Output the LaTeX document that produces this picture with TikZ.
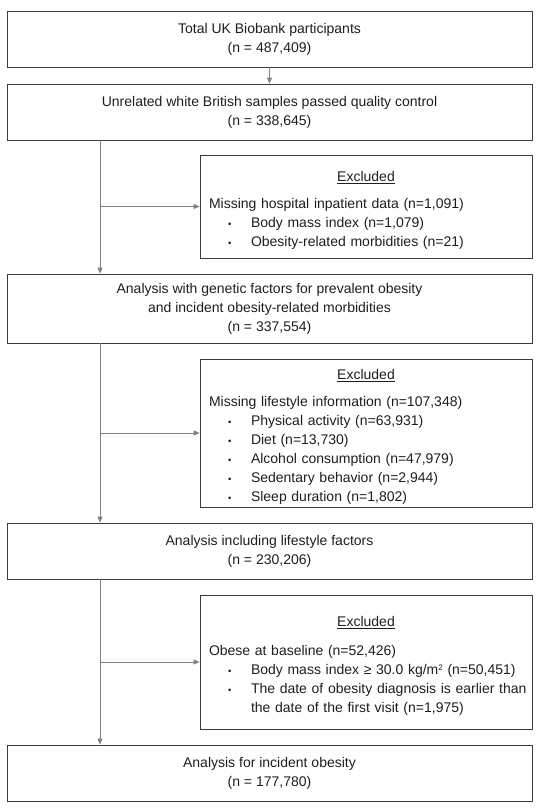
\documentclass[tikz,border=0pt]{standalone}
\usepackage{fontspec}
\setmainfont{Liberation Sans}
\usetikzlibrary{arrows.meta, positioning}

\definecolor{boxline}{HTML}{3A3A3A}
\definecolor{arrowgray}{HTML}{808080}
\definecolor{inkgray}{HTML}{1E1E1E}

\newcommand{\exhead}[1]{\rule{0pt}{18pt}\makebox[\hsize][c]{\underline{#1}}}
\newcommand{\exbullet}{\hspace*{19pt}\makebox[23pt][l]{\raisebox{0.5pt}{\fontsize{9.5}{9.5}\selectfont\textbullet}}}
\newcommand{\exwrap}{\hspace*{42pt}}
\newcommand{\sqr}{\raisebox{4.5pt}{\fontsize{8}{8}\selectfont 2}}

\begin{document}
\begin{tikzpicture}[x=1pt, y=-1pt,
  every node/.style={font=\fontsize{14}{19}\selectfont, text=inkgray},
  mainbox/.style={draw=boxline, line width=0.8pt, minimum width=525pt, align=center, inner sep=0pt},
  exbox/.style={draw=boxline, line width=0.8pt, text width=314pt, inner xsep=9pt, inner ysep=0pt, align=left},
  arr/.style={draw=arrowgray, line width=0.8pt, -{Triangle[length=6pt, width=5pt]}}]
\useasboundingbox (0,0) rectangle (541,808);

% main flow
\node[mainbox, minimum height=56pt] (total) at (269.5,39) {Total UK Biobank participants\\(n = 487,409)};
\node[mainbox, minimum height=56pt] (qc) at (269.5,112) {Unrelated white British samples passed quality control\\(n = 338,645)};
\node[mainbox, minimum height=69pt] (genetic) at (269.5,308.5) {Analysis with genetic factors for prevalent obesity\\and incident obesity-related morbidities\\(n = 337,554)};
\node[mainbox, minimum height=56pt] (lifestyle) at (269.5,551) {Analysis including lifestyle factors\\(n = 230,206)};
\node[mainbox, minimum height=56pt] (incident) at (269.5,773) {Analysis for incident obesity\\(n = 177,780)};

% exclusions
\node[exbox, minimum height=103pt] (ex1) at (366,206.5) {\exhead{Excluded}\\[8pt]
  Missing hospital inpatient data (n=1,091)\\
  \exbullet Body mass index (n=1,079)\\
  \exbullet Obesity-related morbidities (n=21)};
\node[exbox, minimum height=148pt] (ex2) at (366,433) {\exhead{Excluded}\\[8pt]
  Missing lifestyle information (n=107,348)\\
  \exbullet Physical activity (n=63,931)\\
  \exbullet Diet (n=13,730)\\
  \exbullet Alcohol consumption (n=47,979)\\
  \exbullet Sedentary behavior (n=2,944)\\
  \exbullet Sleep duration (n=1,802)};
\node[exbox, minimum height=134pt] (ex3) at (366,662) {\exhead{Excluded}\\[10pt]
  Obese at baseline (n=52,426)\\
  \exbullet Body mass index ≥ 30.0 kg/m\sqr{} (n=50,451)\\
  \exbullet \mbox{The date of obesity diagnosis is earlier than}\\
  \exwrap the date of the first visit (n=1,975)};

% connectors
\coordinate (trunk) at (100,0);
\draw[arr] (total) -- (qc);
\draw[arr] (qc.south -| trunk) -- (genetic.north -| trunk);
\draw[arr] (genetic.south -| trunk) -- (lifestyle.north -| trunk);
\draw[arr] (lifestyle.south -| trunk) -- (incident.north -| trunk);
\foreach \ex in {ex1, ex2, ex3}{
  \draw[arr] (\ex.west -| trunk) -- (\ex.west);
}
\end{tikzpicture}
\end{document}
